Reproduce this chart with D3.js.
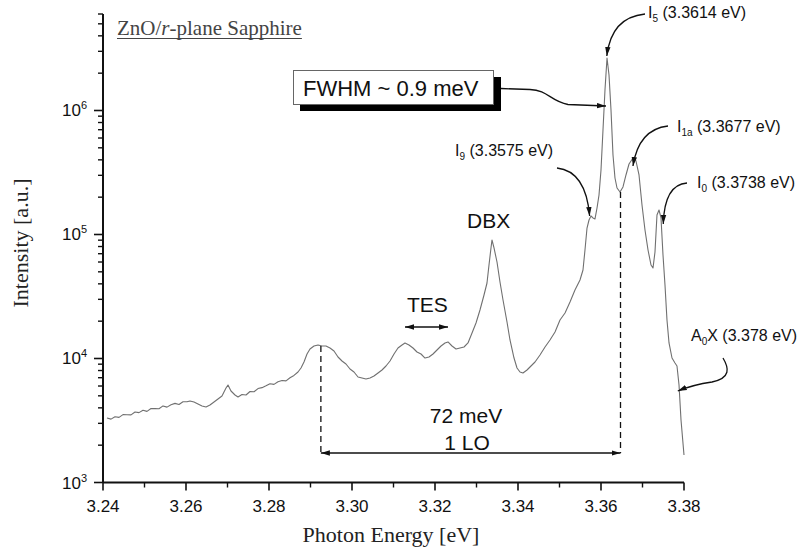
<!DOCTYPE html>
<html><head><meta charset="utf-8">
<script src="https://cdn.jsdelivr.net/npm/d3@7"></script>
<style>body{margin:0;background:#fff} svg{display:block}</style>
</head><body>
<svg id="c" width="801" height="552"></svg>
<script>
// ---------------- data ----------------
const energy = [
3.24096,3.24193,3.24289,3.24386,3.24482,3.24578,3.24675,3.24771,3.24867,3.24964,
3.25060,3.25157,3.25253,3.25349,3.25446,3.25542,3.25639,3.25735,3.25831,3.25928,
3.26024,3.26096,3.26193,3.26289,3.26386,3.26482,3.26578,3.26675,3.26771,3.26867,
3.26964,3.27012,3.27084,3.27181,3.27253,3.27349,3.27446,3.27542,3.27639,3.27735,
3.27831,3.27928,3.28024,3.28120,3.28217,3.28313,3.28410,3.28506,3.28602,3.28699,
3.28771,3.28843,3.28916,3.28988,3.29084,3.29181,3.29277,3.29373,3.29470,3.29566,
3.29663,3.29759,3.29855,3.29952,3.30048,3.30145,3.30241,3.30337,3.30434,3.30530,
3.30627,3.30723,3.30819,3.30916,3.31012,3.31108,3.31205,3.31277,3.31373,3.31470,
3.31566,3.31663,3.31759,3.31855,3.31952,3.32048,3.32145,3.32241,3.32313,3.32410,
3.32506,3.32602,3.32699,3.32795,3.32892,3.32988,3.33084,3.33181,3.33253,3.33301,
3.33349,3.33373,3.33422,3.33494,3.33566,3.33639,3.33735,3.33807,3.33904,3.33976,
3.34048,3.34120,3.34217,3.34313,3.34410,3.34530,3.34651,3.34771,3.34892,3.35012,
3.35133,3.35253,3.35373,3.35494,3.35566,3.35614,3.35663,3.35711,3.35759,3.35807,
3.35855,3.35904,3.35952,3.36000,3.36048,3.36096,3.36145,3.36193,3.36241,3.36289,
3.36337,3.36386,3.36458,3.36530,3.36602,3.36675,3.36771,3.36843,3.36916,3.36988,
3.37060,3.37133,3.37205,3.37253,3.37301,3.37349,3.37398,3.37446,3.37494,3.37542,
3.37590,3.37639,3.37711,3.37783,3.37831,3.37880,3.37928,3.38000];
const intensity = [
3310,3245,3390,3350,3530,3520,3510,3705,3660,3825,
3745,3950,3940,3930,4145,4055,4240,4345,4255,4485,
4480,4544,4460,4297,4140,4063,4220,4460,4715,4985,
5782,6113,5469,5077,4893,5120,5080,5420,5390,5720,
5820,6020,6250,6180,6500,6640,6600,7000,7300,7784,
8383,9371,10870,11930,12610,12850,12610,12610,12150,11500,
10280,9546,9029,8229,7784,7094,6963,6835,6963,7227,
7640,8077,8700,9546,10870,12150,12850,13340,12850,12150,
11280,10870,10090,10280,10870,11710,12610,13340,13590,12610,
11930,12150,12380,13340,16060,19330,24610,32520,40630,56750,
77840,90290,77840,60000,41400,29640,19700,14100,10090,8383,
7784,7640,8077,8700,9371,10670,12380,14100,16360,20440,
23280,28550,35680,42970,51720,74990,112800,130900,141000,135900,
133400,163600,208300,331300,696300,1463000,2651000,1933000,1009000,437700,
285500,237100,220200,241600,301900,370300,414000,391500,301900,172900,
108700,74990,56750,53680,72260,143700,157600,135900,68350,39150,
20440,13340,10090,9198,8700,6113,3192,1667];

const xTicks = [3.24,3.26,3.28,3.30,3.32,3.34,3.36,3.38];
const xTickLabels = ["3.24","3.26","3.28","3.30","3.32","3.34","3.36","3.38"];
const xMinorTicks = [3.25,3.27,3.29,3.31,3.33,3.35,3.37];
const yMajorTicks = [1e3,1e4,1e5,1e6];
const yTickExponents = ["3","4","5","6"];
const yMinorTicks = [2e3,3e3,4e3,5e3,6e3,7e3,8e3,9e3,2e4,3e4,4e4,5e4,6e4,7e4,8e4,9e4,
                     2e5,3e5,4e5,5e5,6e5,7e5,8e5,9e5,2e6,3e6,4e6,5e6,6e6];
const loEnergies = [3.2925, 3.3647];       // the two ends of the 1 LO spacing
const loTopIntensity = [12610, 220200];
const loArrowIntensity = 1730;
const peakLabels = [
  {main:"I", sub:"5",  rest:" (3.3614 eV)"},
  {main:"I", sub:"1a", rest:" (3.3677 eV)"},
  {main:"I", sub:"9",  rest:" (3.3575 eV)"},
  {main:"I", sub:"0",  rest:" (3.3738 eV)"},
  {main:"A", sub:"0",  rest:"X (3.378 eV)"}
];

// ---------------- drawing ----------------
const svg = d3.select("#c");
const x = d3.scaleLinear().domain([3.24,3.38]).range([103,684]);
const y = d3.scaleLog().domain([1e3,6e6]).range([482.5,14]);
const sans = "'Liberation Sans', Arial, sans-serif";
const serif = "'Liberation Serif', 'Times New Roman', serif";

const defs = svg.append("defs");
defs.append("marker").attr("id","ah").attr("viewBox","0 0 10 6")
  .attr("refX",10).attr("refY",3).attr("markerUnits","userSpaceOnUse")
  .attr("markerWidth",9).attr("markerHeight",6).attr("orient","auto-start-reverse")
  .append("path").attr("d","M0,0 L10,3 L0,6 Z").attr("fill","#111");

// spectrum
svg.append("path")
  .datum(energy.map((e,i)=>[e,intensity[i]]))
  .attr("d", d3.line().x(d=>x(d[0])).y(d=>y(d[1])))
  .attr("fill","none").attr("stroke","#707070").attr("stroke-width",1.1)
  .attr("stroke-linejoin","round");

// axes
const ax = svg.append("g").attr("stroke","#111");
ax.append("line").attr("x1",x(3.24)).attr("x2",x(3.38)).attr("y1",y(1e3)).attr("y2",y(1e3)).attr("stroke-width",2);
ax.append("line").attr("x1",x(3.24)).attr("x2",x(3.24)).attr("y1",y(1e3)).attr("y2",y(6e6)).attr("stroke-width",2);
xTicks.forEach(t=>ax.append("line").attr("x1",x(t)).attr("x2",x(t)).attr("y1",y(1e3)).attr("y2",y(1e3)+8).attr("stroke-width",1.6));
xMinorTicks.forEach(t=>ax.append("line").attr("x1",x(t)).attr("x2",x(t)).attr("y1",y(1e3)).attr("y2",y(1e3)+5).attr("stroke-width",1.4));
yMajorTicks.forEach(t=>ax.append("line").attr("x1",x(3.24)-9).attr("x2",x(3.24)).attr("y1",y(t)).attr("y2",y(t)).attr("stroke-width",1.6));
yMinorTicks.forEach(t=>ax.append("line").attr("x1",x(3.24)-5).attr("x2",x(3.24)).attr("y1",y(t)).attr("y2",y(t)).attr("stroke-width",1.4));

// tick labels
xTicks.forEach((t,i)=>svg.append("text").attr("x",x(t)).attr("y",512)
  .attr("text-anchor","middle").attr("font-family",sans).attr("font-size",17).attr("fill","#111").text(xTickLabels[i]));
yMajorTicks.forEach((t,i)=>{
  const tx = svg.append("text").attr("x",87).attr("y",y(t)+6).attr("text-anchor","end")
    .attr("font-family",sans).attr("font-size",17).attr("fill","#111");
  tx.append("tspan").text("10");
  tx.append("tspan").attr("dy",-7).attr("font-size",11).text(yTickExponents[i]);
});

// axis titles
svg.append("text").attr("x",391).attr("y",542).attr("text-anchor","middle")
  .attr("font-family",serif).attr("font-size",22).attr("fill","#222").text("Photon Energy [eV]");
svg.append("text").attr("transform","translate(28,243) rotate(-90)").attr("text-anchor","middle")
  .attr("font-family",serif).attr("font-size",22).attr("fill","#222").text("Intensity [a.u.]");

// title
const title = svg.append("text").attr("x",117).attr("y",35)
  .attr("font-family",serif).attr("font-size",21).attr("fill","#444");
title.append("tspan").text("ZnO/");
title.append("tspan").attr("font-style","italic").text("r");
title.append("tspan").text("-plane Sapphire");
const tw = title.node().getComputedTextLength();
svg.append("line").attr("x1",117).attr("x2",117+tw).attr("y1",38.5).attr("y2",38.5)
  .attr("stroke","#444").attr("stroke-width",1);

// FWHM box
svg.append("rect").attr("x",300).attr("y",77).attr("width",201).attr("height",34).attr("fill","#000");
svg.append("rect").attr("x",293.5).attr("y",70.5).attr("width",200).attr("height",34)
  .attr("fill","#fff").attr("stroke","#666").attr("stroke-width",1);
svg.append("text").attr("x",303).attr("y",96).attr("font-family",sans).attr("font-size",22)
  .attr("fill","#111").text("FWHM ~ 0.9 meV");

// arrows
const arrow = (d, both) => {
  const p = svg.append("path").attr("d",d).attr("fill","none").attr("stroke","#111")
    .attr("stroke-width",1.3).attr("marker-end","url(#ah)");
  if (both) p.attr("marker-start","url(#ah)");
};
arrow(`M501,88.5 L530,89.5 C548,90 550,101 568,104.5 L${x(3.3612)},106`);
arrow(`M645,14 C625,16 610,28 ${x(3.3614)},56`);
arrow(`M668,126 C650,128 637,140 ${x(3.3677)},166`);
arrow(`M557,168 C575,170 587,185 ${x(3.3575)-1},216`);
arrow(`M687,183 C672,184 664,198 ${x(3.3738)+5},224`);
arrow(`M723,358 C729,368 731,378 712,382 C698,384 690,386 ${x(3.3785)},391`);
arrow(`M405,327 L448,327`, true);
arrow(`M${x(loEnergies[0])},${y(loArrowIntensity)} L${x(loEnergies[1])},${y(loArrowIntensity)}`, true);

// LO dashed lines
loEnergies.forEach((e,i)=>svg.append("line").attr("x1",x(e)).attr("x2",x(e))
  .attr("y1",y(loTopIntensity[i])).attr("y2",y(loArrowIntensity))
  .attr("stroke","#111").attr("stroke-width",1.3).attr("stroke-dasharray","6,4"));

// text labels
const big = (tx,xx,yy,anchor)=>svg.append("text").attr("x",xx).attr("y",yy).attr("text-anchor",anchor||"start")
  .attr("font-family",sans).attr("font-size",21).attr("fill","#111").text(tx);
big("DBX",467,228);
big("TES",407,312);
big("72 meV",466,423,"middle");
big("1 LO",467,450,"middle");

const labelPos = [[648,18],[677,132],[455,156],[697,188],[691,341]];
peakLabels.forEach((l,i)=>{
  const t = svg.append("text").attr("x",labelPos[i][0]).attr("y",labelPos[i][1])
    .attr("font-family",sans).attr("font-size",16).attr("fill","#111");
  t.append("tspan").text(l.main);
  t.append("tspan").attr("dy",4).attr("font-size",10).text(l.sub);
  t.append("tspan").attr("dy",-4).text(l.rest);
});
</script>
</body></html>
